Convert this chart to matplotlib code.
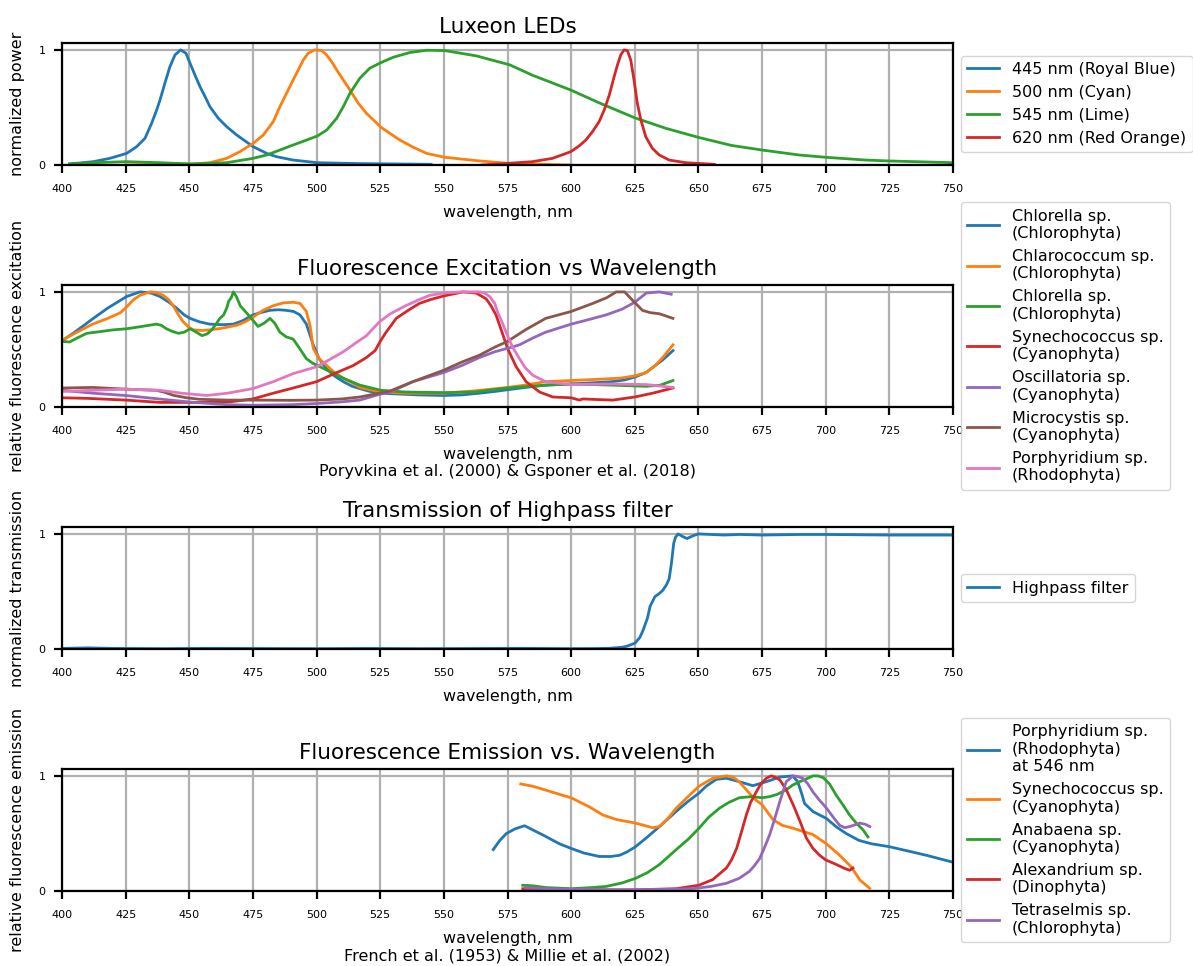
import matplotlib
matplotlib.use("Agg")
import matplotlib.pyplot as plt

plt.rcParams['font.family'] = ['DejaVu Sans']

# ---------------- Panel 1: Luxeon LEDs ----------------
led_labels = ['445 nm (Royal Blue)', '500 nm (Cyan)', '545 nm (Lime)', '620 nm (Red Orange)']
led445_wl = [403, 412.3, 418.8, 425.4, 429.3, 432.6, 435.2, 437.2, 438.5, 440.4, 442.4, 444.4, 446.6, 448.7, 450.3,
             452.2, 454.2, 456.2, 458.1, 461.4, 464.7, 468.6, 475.1, 480.4, 484.3, 490.8, 500.3, 517, 545]
led445_v = [0.009, 0.029, 0.058, 0.101, 0.159, 0.232, 0.362, 0.478, 0.565, 0.71, 0.855, 0.957, 1.0, 0.971, 0.884,
            0.783, 0.681, 0.594, 0.507, 0.406, 0.333, 0.261, 0.159, 0.101, 0.072, 0.043, 0.02, 0.012, 0.006]
led500_wl = [425, 440, 451.6, 458.1, 464.7, 469.9, 475.1, 479.1, 483.0, 485.6, 488.2, 490.8, 492.8, 494.8, 496.7,
             499.3, 502.0, 503.9, 505.9, 507.9, 510.5, 513.1, 516.4, 519.6, 525.3, 528.8, 532.7, 538.0, 543.2,
             550.4, 562.8, 575, 590, 600]
led500_v = [0.0, 0.004, 0.009, 0.02, 0.058, 0.116, 0.188, 0.261, 0.377, 0.507, 0.623, 0.739, 0.826, 0.913, 0.971,
            1.0, 0.994, 0.957, 0.899, 0.826, 0.739, 0.652, 0.536, 0.449, 0.328, 0.275, 0.217, 0.154, 0.101, 0.067,
            0.038, 0.015, 0.005, 0.0]
led545_wl = [403, 412.3, 425.4, 438.5, 450.3, 464.7, 475.1, 480.4, 485.6, 490.8, 496.1, 500.3, 504, 507.9, 510.5,
             513.1, 517, 520.9, 525.3, 530.1, 536.6, 543.2, 550.4, 562.8, 575.9, 584.8, 600, 611, 625, 637, 650,
             663, 675, 689.5, 700, 715.7, 725, 750]
led545_v = [0.009, 0.02, 0.029, 0.02, 0.009, 0.02, 0.058, 0.087, 0.13, 0.174, 0.217, 0.252, 0.304, 0.406, 0.507,
            0.623, 0.754, 0.841, 0.89, 0.936, 0.977, 0.997, 0.994, 0.948, 0.87, 0.78, 0.65, 0.54, 0.41, 0.32, 0.24,
            0.17, 0.13, 0.087, 0.067, 0.043, 0.035, 0.02]
led620_wl = [565, 571.7, 584.8, 592.7, 599.9, 603.1, 605.8, 608.4, 611, 613, 615, 616.9, 618.2, 619.5, 620.8,
             622.1, 623.4, 624.7, 626, 627.4, 629.3, 631.9, 634.6, 638.5, 645, 656.2]
led620_v = [0.0, 0.009, 0.029, 0.058, 0.116, 0.165, 0.217, 0.29, 0.377, 0.478, 0.609, 0.768, 0.87, 0.957, 1.0,
            0.994, 0.913, 0.739, 0.536, 0.391, 0.246, 0.145, 0.087, 0.043, 0.02, 0.006]

# ---------------- Panel 2: Fluorescence excitation ----------------
exc_labels = ['Chlorella sp.\n(Chlorophyta)', 'Chlarococcum sp.\n(Chlorophyta)', 'Chlorella sp.\n(Chlorophyta)',
              'Synechococcus sp.\n(Cyanophyta)', 'Oscillatoria sp.\n(Cyanophyta)', 'Microcystis sp.\n(Cyanophyta)',
              'Porphyridium sp.\n(Rhodophyta)']
chlorella1_wl = [400, 405, 412.3, 418, 425.4, 430.6, 435, 438.5, 442, 445, 448, 450.3, 454, 458, 463, 467.3, 471,
                 475, 478, 481.7, 485, 488, 491, 493.5, 496, 498.7, 501, 504, 507, 510.5, 514, 517, 521, 525.3,
                 530, 540, 550, 557, 564, 570, 575, 582, 590, 600, 608, 616, 621, 625, 629.5, 633, 636, 640]
chlorella1_v = [0.575, 0.65, 0.77, 0.86, 0.96, 1.0, 0.99, 0.96, 0.91, 0.86, 0.80, 0.77, 0.74, 0.72, 0.715, 0.72,
                0.75, 0.80, 0.82, 0.84, 0.845, 0.84, 0.83, 0.80, 0.72, 0.54, 0.42, 0.33, 0.27, 0.22, 0.18, 0.16,
                0.135, 0.12, 0.115, 0.105, 0.10, 0.105, 0.12, 0.135, 0.15, 0.17, 0.19, 0.20, 0.21, 0.22, 0.235,
                0.26, 0.30, 0.36, 0.41, 0.49]
chlarococcum_wl = [400, 405, 412, 418, 423, 425.4, 428, 430.6, 434.6, 437, 439.8, 442, 443.7, 445.5, 447.6, 450,
                   451.6, 455, 458, 463, 468.6, 472, 475, 479, 483, 487, 490.8, 493.5, 496, 497.5, 498.7, 501,
                   504, 507, 510.5, 514, 517, 521, 525.3, 535, 550, 562, 575, 582, 590, 600, 609.8, 619, 625,
                   629.5, 633, 636, 640]
chlarococcum_v = [0.58, 0.64, 0.72, 0.77, 0.82, 0.87, 0.93, 0.97, 1.0, 0.995, 0.97, 0.93, 0.88, 0.81, 0.74, 0.69,
                  0.67, 0.665, 0.67, 0.685, 0.71, 0.74, 0.78, 0.84, 0.88, 0.905, 0.91, 0.90, 0.83, 0.70, 0.51,
                  0.42, 0.36, 0.30, 0.25, 0.21, 0.17, 0.15, 0.13, 0.12, 0.12, 0.14, 0.17, 0.19, 0.22, 0.23, 0.24,
                  0.25, 0.27, 0.30, 0.36, 0.43, 0.54]
chlorella2_wl = [400, 403, 406, 409.7, 415, 420, 425.4, 430, 437, 439, 441, 443, 445.7, 448, 450.3, 452, 455, 457,
                 458.8, 460.5, 462, 463.5, 464.7, 465.5, 466.5, 467.3, 468.5, 470, 472, 474, 477, 479.5, 481.7,
                 483.5, 485.6, 488, 490.8, 493, 496, 498.5, 501.3, 505, 510.5, 517, 525.3, 535, 550, 562, 575,
                 590, 600, 616, 629.5, 635, 640]
chlorella2_v = [0.57, 0.565, 0.60, 0.64, 0.655, 0.67, 0.68, 0.695, 0.72, 0.71, 0.68, 0.66, 0.64, 0.65, 0.68, 0.66,
                0.62, 0.635, 0.67, 0.72, 0.77, 0.80, 0.86, 0.92, 0.95, 1.0, 0.96, 0.88, 0.83, 0.78, 0.70, 0.73,
                0.77, 0.73, 0.65, 0.61, 0.59, 0.52, 0.42, 0.38, 0.35, 0.31, 0.25, 0.19, 0.145, 0.13, 0.125, 0.13,
                0.165, 0.19, 0.20, 0.19, 0.18, 0.19, 0.23]
synecho_ex_wl = [400, 410, 425, 438.5, 450, 458, 466, 475, 483, 490.8, 500, 504, 508, 514.4, 519.6, 523, 525, 527,
                 529, 531.3, 536, 540.4, 545, 550, 557.5, 562.7, 566.6, 568.5, 570.5, 573, 575, 578.4, 582.3,
                 587.6, 592.8, 600, 603.3, 604.6, 610, 616.4, 625, 632, 640]
synecho_ex_v = [0.08, 0.075, 0.06, 0.04, 0.04, 0.04, 0.045, 0.07, 0.12, 0.165, 0.22, 0.26, 0.30, 0.36, 0.43, 0.49,
                0.57, 0.64, 0.70, 0.77, 0.84, 0.90, 0.935, 0.965, 1.0, 0.99, 0.94, 0.88, 0.80, 0.64, 0.51, 0.35,
                0.22, 0.13, 0.087, 0.08, 0.06, 0.07, 0.065, 0.06, 0.087, 0.12, 0.165]
oscill_wl = [400, 412, 425, 438, 450.3, 464.7, 475, 490, 500, 510, 517, 524.7, 529, 537.8, 550, 557, 564, 570, 575,
             579.7, 585, 590, 600, 607, 613.7, 620, 625, 629.5, 634.7, 639.3]
oscill_v = [0.145, 0.12, 0.10, 0.07, 0.043, 0.02, 0.015, 0.02, 0.03, 0.045, 0.06, 0.11, 0.13, 0.22, 0.30, 0.36,
            0.43, 0.48, 0.51, 0.54, 0.60, 0.65, 0.72, 0.76, 0.80, 0.85, 0.91, 0.99, 1.0, 0.98]
microcy_wl = [400, 412, 425, 437, 440, 444, 449, 454, 465, 475, 490, 500, 510, 517, 524.7, 529, 537.8, 550, 557,
              564, 570, 575, 582, 590, 600, 608.5, 614, 617.7, 621, 624, 628, 631, 634.7, 640]
microcy_v = [0.165, 0.17, 0.155, 0.145, 0.13, 0.10, 0.08, 0.067, 0.06, 0.06, 0.058, 0.06, 0.07, 0.087, 0.12, 0.14,
             0.22, 0.32, 0.39, 0.45, 0.52, 0.57, 0.67, 0.77, 0.83, 0.90, 0.95, 1.0, 1.0, 0.93, 0.84, 0.82, 0.81,
             0.77]
porph_ex_wl = [400, 412, 425, 438.5, 447, 456.8, 465, 475, 483, 490.8, 500, 505, 510.5, 515, 519.6, 524.7, 529,
               535, 540, 544.4, 550, 557, 564, 566, 568, 570, 571, 573, 575, 577, 579.7, 582, 585, 590, 600, 616,
               629.5, 640]
porph_ex_v = [0.135, 0.145, 0.155, 0.145, 0.12, 0.10, 0.12, 0.16, 0.22, 0.29, 0.35, 0.41, 0.48, 0.55, 0.62, 0.74,
              0.81, 0.88, 0.93, 0.97, 0.99, 1.0, 1.0, 0.99, 0.96, 0.90, 0.83, 0.73, 0.62, 0.52, 0.42, 0.34, 0.275,
              0.22, 0.195, 0.20, 0.195, 0.17]

# ---------------- Panel 3: Highpass filter ----------------
hp_label = 'Highpass filter'
hp_wl = [400, 410, 420, 440, 460, 480, 500, 520, 540, 560, 580, 600, 610, 615, 620, 622, 625, 627, 628.3, 630, 631,
         632.9, 634.5, 636, 637.5, 638.5, 639.4, 640.3, 641, 642, 644, 645.5, 648, 650, 655, 660, 666, 675, 690,
         700, 725, 750]
hp_v = [0.005, 0.01, 0.005, 0.003, 0.006, 0.004, 0.003, 0.005, 0.003, 0.004, 0.006, 0.003, 0.004, 0.006, 0.015,
        0.025, 0.05, 0.10, 0.165, 0.27, 0.37, 0.455, 0.48, 0.51, 0.56, 0.61, 0.745, 0.92, 0.97, 1.0, 0.975, 0.96,
        0.985, 1.0, 0.995, 0.99, 0.995, 0.99, 0.995, 0.995, 0.99, 0.99]

# ---------------- Panel 4: Fluorescence emission ----------------
em_labels = ['Porphyridium sp.\n(Rhodophyta)\nat 546 nm', 'Synechococcus sp.\n(Cyanophyta)',
             'Anabaena sp.\n(Cyanophyta)', 'Alexandrium sp.\n(Dinophyta)', 'Tetraselmis sp.\n(Chlorophyta)']
porph_em_wl = [569.4, 572, 574.6, 578, 581.7, 585, 589.5, 595.4, 600, 605, 611, 615.6, 619, 622, 625.3, 630, 634.7,
               641.7, 646, 650.2, 653, 657, 661, 666, 671.4, 676.7, 682, 687, 689, 690.5, 691.7, 695, 700.3, 704,
               708, 713, 718, 725, 739.6, 750]
porph_em_v = [0.36, 0.44, 0.50, 0.54, 0.567, 0.53, 0.48, 0.41, 0.37, 0.33, 0.30, 0.30, 0.31, 0.34, 0.385, 0.47,
              0.56, 0.70, 0.78, 0.85, 0.91, 0.97, 0.98, 0.95, 0.915, 0.95, 0.99, 1.0, 0.95, 0.85, 0.76, 0.69, 0.63,
              0.56, 0.50, 0.44, 0.41, 0.385, 0.31, 0.25]
synecho_em_wl = [580.2, 585, 589.5, 595.4, 600, 607.2, 612.5, 618, 625.3, 632, 634.7, 638, 641.3, 645, 650.2,
                 655.7, 661, 663.6, 666, 668.8, 672, 675, 679.3, 683, 687.2, 695, 700.3, 705.5, 710, 713.4, 717.3]
synecho_em_v = [0.93, 0.91, 0.88, 0.84, 0.81, 0.73, 0.66, 0.62, 0.59, 0.55, 0.56, 0.63, 0.72, 0.80, 0.91, 0.98,
                1.0, 0.99, 0.95, 0.88, 0.80, 0.75, 0.62, 0.57, 0.545, 0.49, 0.41, 0.31, 0.21, 0.096, 0.023]
anabaena_wl = [581, 585, 590, 600, 608.5, 613.8, 620, 625.3, 630, 634.7, 641.3, 646, 650.2, 654, 658.3, 662, 666,
               670.8, 675, 678, 681, 684.5, 687, 689.8, 692, 695, 697, 699, 701.5, 704.2, 707, 709.4, 712, 714.7,
               716.6]
anabaena_v = [0.05, 0.045, 0.03, 0.02, 0.03, 0.04, 0.07, 0.11, 0.16, 0.23, 0.36, 0.45, 0.545, 0.64, 0.72, 0.77,
              0.81, 0.82, 0.81, 0.82, 0.84, 0.88, 0.92, 0.95, 0.97, 1.0, 1.0, 0.985, 0.93, 0.83, 0.74, 0.66, 0.59,
              0.53, 0.47]
alex_wl = [581, 590, 600, 610, 625.3, 641.3, 650.2, 655.7, 661, 663, 665, 667, 668.8, 670.5, 672.7, 674.5, 676.7,
           678.6, 680, 682, 684.5, 687.2, 690, 692.4, 695, 697.6, 700, 704.2, 707, 709.4, 710.7]
alex_v = [0.02, 0.015, 0.01, 0.01, 0.01, 0.02, 0.05, 0.10, 0.20, 0.27, 0.37, 0.52, 0.66, 0.77, 0.86, 0.93, 0.98,
          1.0, 0.99, 0.965, 0.88, 0.75, 0.60, 0.46, 0.37, 0.31, 0.27, 0.23, 0.20, 0.18, 0.20]
tetra_wl = [582, 590, 600, 620, 640, 647.8, 655, 661, 666, 670, 672, 674, 676, 678, 680, 682, 684.5, 687.2, 689,
            691, 693, 695, 697.5, 700.3, 703, 705.5, 707.5, 709.4, 711.5, 713.4, 715.5, 717.3]
tetra_v = [0.03, 0.02, 0.015, 0.01, 0.015, 0.02, 0.04, 0.067, 0.11, 0.17, 0.22, 0.28, 0.38, 0.49, 0.63, 0.78, 0.95,
           1.0, 0.995, 0.98, 0.93, 0.86, 0.79, 0.72, 0.64, 0.57, 0.55, 0.56, 0.575, 0.59, 0.58, 0.56]

xticks = [400, 425, 450, 475, 500, 525, 550, 575, 600, 625, 650, 675, 700, 725, 750]

titles = ['Luxeon LEDs', 'Fluorescence Excitation vs Wavelength', 'Transmission of Highpass filter',
          'Fluorescence Emission vs. Wavelength']
ylabels = ['normalized power', 'relative fluorescence excitation', 'normalized transmission',
           'relative fluorescence emission']
xlabels = ['wavelength, nm', 'wavelength, nm\nPoryvkina et al. (2000) & Gsponer et al. (2018)',
           'wavelength, nm', 'wavelength, nm\nFrench et al. (1953) & Millie et al. (2002)']

colors = ['#1f77b4', '#ff7f0e', '#2ca02c', '#d62728', '#9467bd', '#8c564b', '#e377c2']

W, H = 1193, 966
fig = plt.figure(figsize=(W / 100, H / 100), dpi=100)

ax_px = [(43, 165), (285, 407), (527, 649), (769, 891)]
left_px, right_px = 62, 953

series = [
    [(led445_wl, led445_v), (led500_wl, led500_v), (led545_wl, led545_v), (led620_wl, led620_v)],
    [(chlorella1_wl, chlorella1_v), (chlarococcum_wl, chlarococcum_v), (chlorella2_wl, chlorella2_v),
     (synecho_ex_wl, synecho_ex_v), (oscill_wl, oscill_v), (microcy_wl, microcy_v), (porph_ex_wl, porph_ex_v)],
    [(hp_wl, hp_v)],
    [(porph_em_wl, porph_em_v), (synecho_em_wl, synecho_em_v), (anabaena_wl, anabaena_v), (alex_wl, alex_v),
     (tetra_wl, tetra_v)],
]
labels = [led_labels, exc_labels, [hp_label], em_labels]

for i, (top, bot) in enumerate(ax_px):
    ax = fig.add_axes([left_px / W, 1 - bot / H, (right_px - left_px) / W, (bot - top) / H])
    for j, (wl, v) in enumerate(series[i]):
        ax.plot(wl, v, color=colors[j], lw=2.0, label=labels[i][j], solid_joinstyle='round')
    ax.set_xlim(400, 750)
    ax.set_ylim(0, 1.06)
    ax.set_xticks(xticks)
    ax.set_yticks([0, 1])
    ax.grid(True, color='#b0b0b0', lw=1.6)
    ax.set_axisbelow(True)
    for s in ax.spines.values():
        s.set_linewidth(1.6)
        s.set_color('black')
    ax.tick_params(axis='both', labelsize=8, length=5.5, width=1.6, color='black')
    ax.tick_params(axis='x', pad=8.5)
    ax.tick_params(axis='y', pad=6.5)
    ax.set_title(titles[i], fontsize=15.5, pad=7)
    ax.set_xlabel(xlabels[i], fontsize=11.5, labelpad=7.5)
    ax.set_ylabel(ylabels[i], fontsize=11.5)
    ax.yaxis.set_label_coords(-0.041, 0.5)
    ax.legend(loc='center left', bbox_to_anchor=(1.0, 0.5), fontsize=11.5)

fig.savefig('out.png', dpi=100)
